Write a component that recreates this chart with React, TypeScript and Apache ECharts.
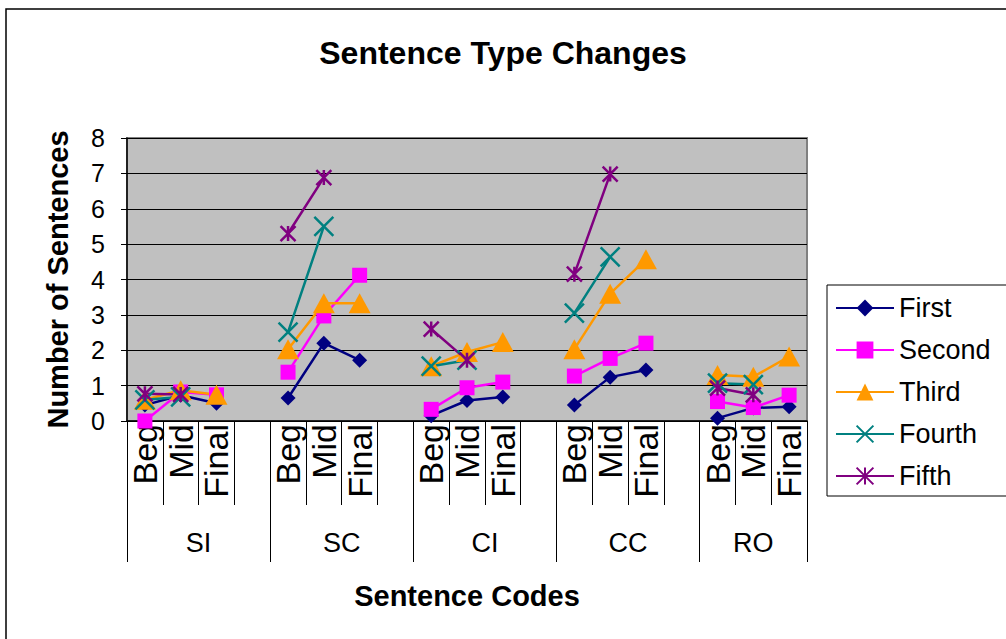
import React, { useEffect, useRef } from 'react';
import * as echarts from 'echarts';

const groups = ['SI', 'SC', 'CI', 'CC', 'RO'];
const stages = ['Beg', 'Mid', 'Final'];
const yMin = 0;
const yMax = 8;
const yStep = 1;

const seriesNames = ['First', 'Second', 'Third', 'Fourth', 'Fifth'];
//            SI                      SC                      CI                      CC                      RO
const first = [0.45, 0.73, 0.5, null, 0.65, 2.2, 1.72, null, 0.15, 0.58, 0.68, null, 0.45, 1.24, 1.44, null, 0.08, 0.37, 0.4];
const second = [0, 0.82, 0.74, null, 1.38, 2.97, 4.12, null, 0.33, 0.94, 1.1, null, 1.27, 1.77, 2.2, null, 0.55, 0.38, 0.73];
const third = [0.6, 0.87, 0.74, null, 2.03, 3.33, 3.33, null, 1.55, 1.95, 2.23, null, 2.03, 3.6, 4.57, null, 1.3, 1.25, 1.82];
const fourth = [0.6, 0.68, null, null, 2.51, 5.5, null, null, 1.55, 1.72, null, null, 3.05, 4.64, null, null, 1.07, 1.03, null];
const fifth = [0.77, 0.75, null, null, 5.3, 6.88, null, null, 2.6, 1.72, null, null, 4.15, 6.98, null, null, 0.93, 0.74, null];

const seriesData = [first, second, third, fourth, fifth];
const seriesColors = ['#000080', '#FF00FF', '#FF9900', '#008080', '#800080'];
const seriesSymbols = [
  'diamond',
  'rect',
  'triangle',
  'path://M0,0L10,10M10,0L0,10',
  'path://M5,0L5,10M0,0L10,10M10,0L0,10',
];
const seriesSymbolSizes = [15, 15, [22, 20], 19, 15];

// categories: three stages per group, blank spacer between groups
const categories: string[] = [];
const groupBounds: number[] = [0];
groups.forEach((g, i) => {
  stages.forEach((s) => categories.push(g + ':' + s));
  if (i < groups.length - 1) categories.push(g + ':');
  groupBounds.push(categories.length);
});
const groupCenters = groups.map((_, i) => (groupBounds[i] + groupBounds[i + 1]) / 2);

const FONT = '"Liberation Sans", Arial, sans-serif';

export default function App() {
  const ref = useRef<HTMLDivElement>(null);
  useEffect(() => {
    if (!ref.current) return;
    const chart = echarts.init(ref.current, undefined, { renderer: 'svg' });
    chart.setOption({
      animation: false,
      backgroundColor: '#fff',
      textStyle: { fontFamily: FONT },
      title: {
        text: 'Sentence Type Changes',
        left: 'center',
        top: 37,
        padding: 0,
        textStyle: { fontSize: 32, fontWeight: 'bold', color: '#000', fontFamily: FONT },
      },
      graphic: [
        {
          type: 'rect',
          silent: true,
          z: -10,
          shape: { x: 6, y: 9, width: 1010, height: 640 },
          style: { fill: 'none', stroke: '#000', lineWidth: 1.5 },
        },
      ],
      legend: {
        orient: 'vertical',
        left: 827,
        top: 285,
        data: seriesNames,
        backgroundColor: '#fff',
        borderColor: '#000',
        borderWidth: 1,
        padding: [9, 20, 6, 8],
        itemGap: 14,
        itemWidth: 58,
        itemHeight: 21,
        textStyle: { fontSize: 27, color: '#000', fontFamily: FONT, lineHeight: 28 },
      },
      grid: {
        left: 127,
        top: 138,
        width: 680,
        height: 283,
        show: true,
        backgroundColor: '#C0C0C0',
        borderColor: '#808080',
        borderWidth: 2,
      },
      xAxis: [
        {
          type: 'category',
          data: categories,
          boundaryGap: true,
          axisLine: { show: true, lineStyle: { color: '#000', width: 1.5 } },
          axisTick: { show: true, interval: 0, length: 84, lineStyle: { color: '#000', width: 1 } },
          axisLabel: {
            interval: 0,
            rotate: 90,
            margin: 3,
            fontSize: 34,
            color: '#000',
            fontFamily: FONT,
            formatter: (v: string) => v.split(':')[1],
          },
          splitLine: { show: false },
        },
        {
          type: 'value',
          position: 'bottom',
          min: 0,
          max: categories.length,
          axisLine: { show: false },
          axisTick: {
            show: true,
            length: 141,
            customValues: groupBounds,
            lineStyle: { color: '#000', width: 1 },
          },
          axisLabel: {
            show: true,
            customValues: groupCenters,
            margin: 108,
            fontSize: 27,
            color: '#000',
            fontFamily: FONT,
            formatter: (v: number) => {
              const idx = groupCenters.findIndex((c) => Math.abs(c - v) < 1e-6);
              return idx >= 0 ? groups[idx] : '';
            },
          },
          splitLine: { show: false },
          name: 'Sentence Codes',
          nameLocation: 'middle',
          nameGap: 160,
          nameTextStyle: { fontSize: 29, fontWeight: 'bold', color: '#000', fontFamily: FONT },
        },
      ],
      yAxis: {
        type: 'value',
        min: yMin,
        max: yMax,
        interval: yStep,
        axisLine: { show: true, lineStyle: { color: '#000', width: 1.5 } },
        axisTick: { show: true, inside: false, length: 6, lineStyle: { color: '#000' } },
        axisLabel: { margin: 22, fontSize: 25, color: '#000', fontFamily: FONT },
        splitLine: { show: true, lineStyle: { color: '#000', width: 1 } },
        name: 'Number of Sentences',
        nameLocation: 'middle',
        nameGap: 55,
        nameTextStyle: { fontSize: 29, fontWeight: 'bold', color: '#000', fontFamily: FONT },
      },
      series: seriesNames.map((name, i) => ({
        name,
        type: 'line',
        xAxisIndex: 0,
        data: seriesData[i],
        connectNulls: false,
        symbol: seriesSymbols[i],
        symbolSize: seriesSymbolSizes[i],
        showAllSymbol: true,
        lineStyle: { color: seriesColors[i], width: 2.5 },
        itemStyle: {
          color: seriesColors[i],
          borderColor: seriesColors[i],
          borderWidth: i >= 3 ? 2.5 : 0,
        },
        emphasis: { disabled: true },
      })),
    });
    return () => chart.dispose();
  }, []);
  return (
    <div
      ref={ref}
      style={{ position: 'fixed', left: 0, top: 0, width: 1006, height: 639, background: '#fff' }}
    />
  );
}
